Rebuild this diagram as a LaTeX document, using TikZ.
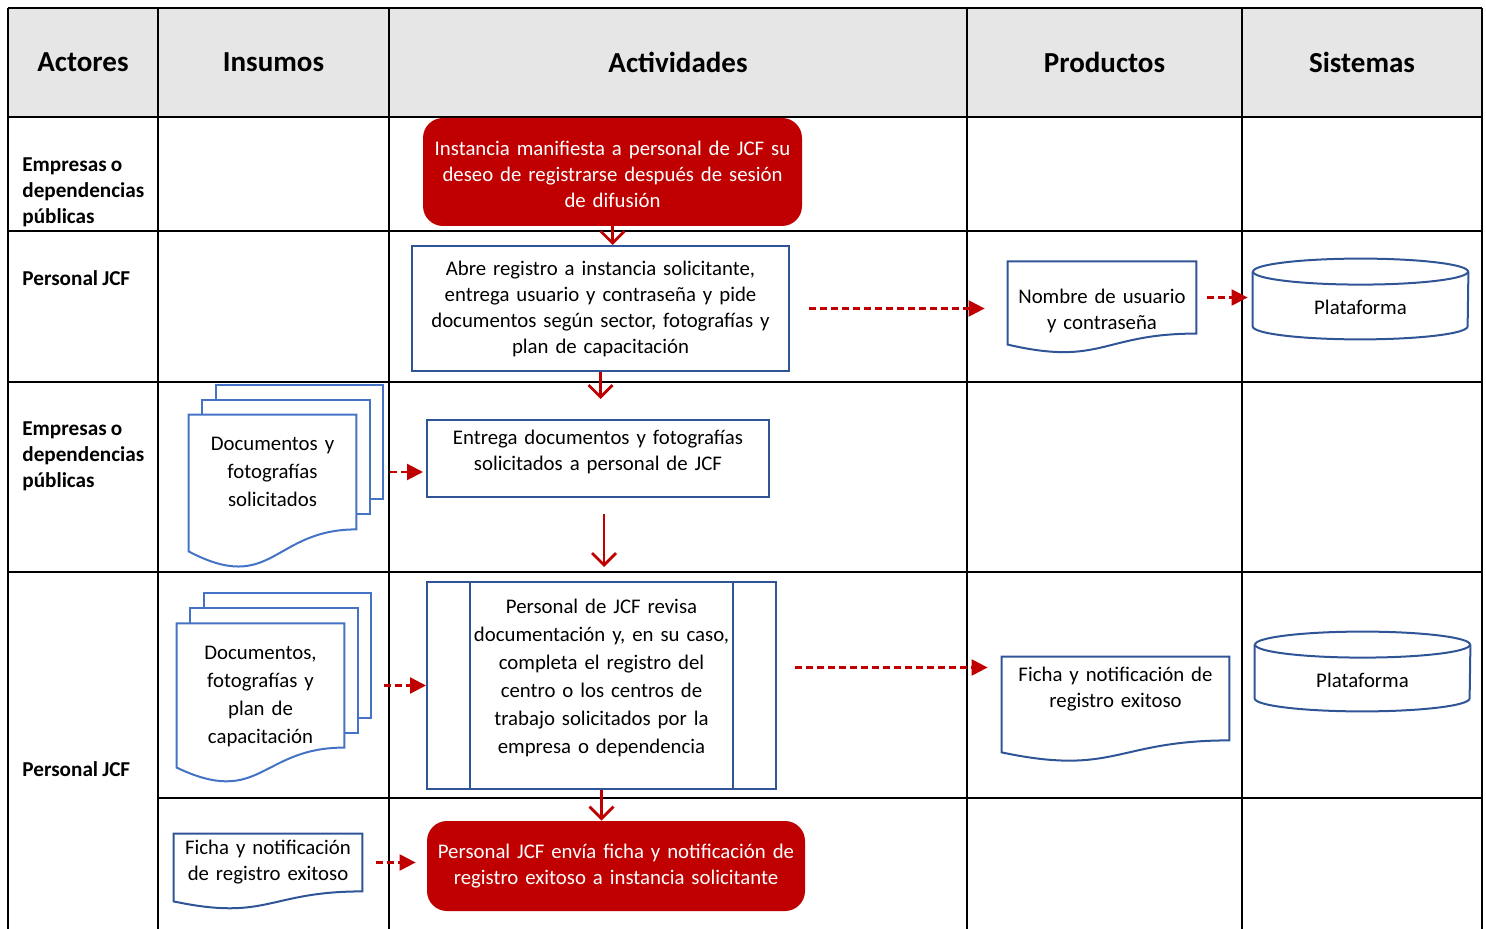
\documentclass[tikz,border=0pt]{standalone}
\usepackage{fontspec}
\setmainfont{Carlito}[WordSpace=0.85]
\usepackage{xcolor}
\usepackage{tikz}
\usetikzlibrary{calc,arrows.meta,backgrounds}

\definecolor{jcfred}{HTML}{C00000}
\definecolor{jcfblue}{HTML}{2F5597}
\definecolor{pageblue}{HTML}{4472C4}
\definecolor{hdrgray}{HTML}{E6E6E6}

\tikzset{
	lane/.style={line width=1.1pt},
	hdr/.style={font=\fontsize{14.5}{17}\selectfont\bfseries},
	actor/.style={anchor=west, align=left, inner sep=0pt, font=\fontsize{10.6}{13}\selectfont\bfseries},
	txt/.style={align=center, inner sep=0pt, font=\fontsize{10.4}{13}\selectfont},
	spread/.style={font=\fontsize{10.4}{14}\selectfont},
	act/.style={txt, draw=jcfblue, line width=1pt},
	redact/.style={txt, fill=jcfred, text=white, rounded corners=10pt},
	docline/.style={draw=jcfblue, line width=1pt},
	page/.style={draw=pageblue, line width=1pt, fill=white},
	flow/.style={draw=jcfred, line width=1.4pt, -{Straight Barb[length=6pt,width=12pt]}},
	feed/.style={draw=jcfred, line width=1.1pt, dash pattern=on 3.5pt off 2pt, -{Triangle[length=8pt,width=8pt]}},
	tup/.style={execute at end node={\rule[-#1]{0pt}{0pt}}},
	tdown/.style={execute at begin node={\rule{0pt}{#1}}}
}

% document: node, depth of the wave
\newcommand{\docshape}[3][docline]{%
	\draw[#1] (#2.north west) -- (#2.north east) -- (#2.south east)
		.. controls (#2.south) and ($(#2.south)+(0,-3*#3)$) .. ($(#2.south west)+(0,-#3)$) -- cycle;}

% cylinder: node, x radius, y radius
\newcommand{\cylshape}[3]{%
	\draw[docline] ($(#1.north west)+(0,#3)$) -- ($(#1.south west)+(0,#3)$)
		arc[start angle=180, end angle=360, x radius=#2, y radius=#3] -- ($(#1.north east)+(0,#3)$);
	\draw[docline] ($(#1.north)+(0,#3)$) ellipse[x radius=#2, y radius=#3];}

\begin{document}
\begin{tikzpicture}[x=0.5pt, y=-0.5pt]
\useasboundingbox (0,0) rectangle (1486,929);

% Tabla
\fill[hdrgray] (8,8) rectangle (1482,117);
\foreach \x in {8,158,389,967,1242,1482}
	\draw[lane] (\x,8) -- (\x,929);
\foreach \y in {8,117,231,382,572}
	\draw[lane] (8,\y) -- (1482,\y);
\draw[lane] (158,798) -- (1482,798);

\foreach \x/\name in {83/Actores, 273.5/Insumos, 678/Actividades, 1104.5/Productos, 1362/Sistemas}
	\node[hdr] (\name) at (\x,62.5) {\name};

\node[actor] (emp1) at (22,192) {Empresas o\\dependencias\\públicas};
\node[actor] (jcf1) at (22,278) {Personal JCF};
\node[actor] (emp2) at (22,456) {Empresas o\\dependencias\\públicas};
\node[actor] (jcf2) at (22,769) {Personal JCF};

% Actividades
\node[redact, text width=189.5pt, minimum height=54pt, tdown=10pt] (red1) at (612.5,172)
	{Instancia manifiesta a personal de JCF su\\deseo de registrarse después de sesión\\de difusión};
\node[act, text width=188.5pt, minimum height=62.5pt] (abre) at (600.5,308.5)
	{Abre registro a instancia solicitante,\\entrega usuario y contraseña y pide\\documentos según sector, fotografías y\\plan de capacitación};
\node[act, text width=171pt, minimum height=38.5pt, tup=8pt] (entrega) at (598,458.5)
	{Entrega documentos y fotografías\\solicitados a personal de JCF};
\node[act, spread, text width=174.5pt, minimum height=103.5pt, tup=9pt] (proc) at (601.5,685.5)
	{Personal de JCF revisa\\documentación y, en su caso,\\completa el registro del\\centro o los centros de\\trabajo solicitados por la\\empresa o dependencia};
\draw[docline] ($(proc.north west)+(22pt,0)$) -- ($(proc.south west)+(22pt,0)$);
\draw[docline] ($(proc.north east)+(-22pt,0)$) -- ($(proc.south east)+(-22pt,0)$);
\node[redact, text width=189pt, minimum height=45pt] (red2) at (616,866)
	{Personal JCF envía ficha y notificación de\\registro exitoso a instancia solicitante};

% Insumos
\node[txt, spread, text width=83.5pt, minimum height=57pt] (docs1) at (272.5,472)
	{Documentos y\\fotografías\\solicitados};
\node[txt, spread, text width=83.5pt, minimum height=57.5pt, tdown=18pt] (docs2) at (260.5,685.5)
	{Documentos,\\fotografías y\\plan de\\capacitación};
\node[txt, text width=94pt, minimum height=28.5pt] (fichab) at (268,862.5)
	{Ficha y notificación\\de registro exitoso};

% Productos y sistemas
\node[txt, text width=94pt, minimum height=35.5pt, tdown=21pt] (nombre) at (1102,297.5)
	{Nombre de usuario\\y contraseña};
\node[txt, text width=113.5pt, minimum height=41.5pt, tup=11pt] (ficha) at (1115.5,698.5)
	{Ficha y notificación de\\registro exitoso};
\node[txt, text width=107.5pt, minimum height=27pt, tup=4.5pt] (plat1) at (1360.5,312) {Plataforma};
\node[txt, text width=107.5pt, minimum height=26.5pt, tup=4pt] (plat2) at (1362.5,684.5) {Plataforma};

\begin{scope}[on background layer]
	\foreach \k in {2,1}{
		\draw[page] ($(docs1.north west)+(\k*6.75pt,\k*7.5pt)$) rectangle ($(docs1.south east)+(\k*6.75pt,\k*7.5pt)$);
		\draw[page] ($(docs2.north west)+(\k*6.75pt,\k*7.5pt)$) rectangle ($(docs2.south east)+(\k*6.75pt,\k*7.5pt)$);
	}
	\docshape[page]{docs1}{11pt}
	\docshape[page]{docs2}{10pt}
	\docshape{fichab}{5pt}
	\docshape{nombre}{5.5pt}
	\docshape{ficha}{6pt}
	\cylshape{plat1}{53.75pt}{6.5pt}
	\cylshape{plat2}{53.75pt}{6.5pt}
\end{scope}

% Flechas
\draw[flow] (red1.south) -- (red1.south |- abre.north);
\draw[flow, shorten >=10pt] (abre.south) -- (abre.south |- entrega.north);
\draw[flow, shorten <=8pt, shorten >=7pt] ($(entrega.south)+(3pt,0)$) -- ($(entrega.south |- proc.north)+(3pt,0)$);
\draw[flow] (proc.south) -- (proc.south |- red2.north);

\draw[feed, shorten <=9.5pt, shorten >=11.5pt] (abre.east) -- (abre.east -| nombre.west);
\draw[feed, shorten <=5.5pt, shorten >=2.5pt] (nombre.east) -- (nombre.east -| plat1.west);
\draw[feed, shorten <=17pt, shorten >=1.5pt] (docs1.east) -- (docs1.east -| entrega.west);
\draw[feed, shorten <=20pt] (docs2.east) -- (docs2.east -| proc.west);
\draw[feed, shorten <=9pt, shorten >=7pt] ($(proc.east)+(0,9pt)$) -- ($(proc.east -| ficha.west)+(0,9pt)$);
\draw[feed, shorten <=7pt, shorten >=5.5pt] (fichab.east) -- (fichab.east -| red2.west);

\end{tikzpicture}
\end{document}
